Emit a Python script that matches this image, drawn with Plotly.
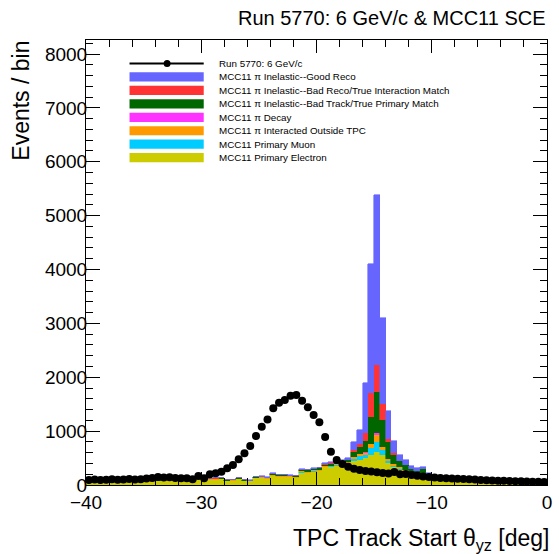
import numpy as np
import plotly.graph_objects as go

# ---------------- data ----------------
bin_edges_lo = -40.0
bin_width = 0.5
n_bins = 80
bin_centers = [bin_edges_lo + bin_width * (i + 0.5) for i in range(n_bins)]

data_counts = [
    95, 100, 92, 98, 105, 97, 100, 110, 102, 108,
    120, 130, 150, 140, 145, 128, 124, 124, 106, 167,
    124, 198, 217, 247, 310, 371, 476, 588, 724, 909,
    1082, 1218, 1423, 1527, 1577, 1657, 1670, 1565, 1441, 1299,
    1163, 890, 618, 464, 390, 340, 300, 280, 260, 250,
    235, 225, 215, 240, 200, 205, 185, 170, 160, 150,
    140, 130, 125, 120, 115, 110, 105, 100, 95, 90,
    85, 80, 78, 75, 70, 68, 65, 62, 60, 58,
]

mc_electron = [
    45, 48, 47, 50, 48, 52, 50, 54, 56, 57,
    60, 64, 76, 80, 78, 84, 76, 78, 80, 100,
    100, 96, 100, 104, 76, 80, 104, 72, 68, 124,
    128, 112, 172, 152, 148, 144, 136, 232, 228, 248,
    260, 330, 340, 360, 370, 380, 440, 470, 500, 550,
    620, 560, 400, 330, 280, 240, 200, 170, 160, 120,
    110, 115, 90, 82, 75, 72, 68, 64, 60, 60,
    56, 56, 52, 53, 51, 49, 49, 47, 45, 45,
]
mc_muon = [
    0, 0, 0, 0, 0, 0, 1, 0, 0, 1,
    1, 1, 1, 1, 1, 1, 1, 1, 1, 1,
    1, 1, 1, 2, 1, 1, 2, 1, 1, 2,
    2, 2, 3, 2, 2, 2, 2, 3, 3, 3,
    3, 5, 5, 10, 15, 20, 40, 60, 60, 140,
    180, 90, 40, 30, 20, 15, 10, 10, 10, 5,
    2, 2, 2, 1, 1, 1, 1, 1, 1, 1,
    1, 1, 1, 1, 1, 1, 1, 1, 1, 1,
]
mc_outside = [
    3, 4, 3, 4, 4, 4, 4, 5, 5, 5,
    5, 5, 6, 7, 6, 7, 6, 6, 7, 8,
    8, 8, 8, 9, 6, 7, 9, 6, 6, 10,
    10, 9, 14, 12, 12, 12, 11, 18, 18, 20,
    20, 10, 15, 15, 15, 20, 40, 40, 40, 70,
    130, 50, 40, 30, 30, 25, 20, 20, 15, 10,
    8, 8, 6, 6, 5, 5, 5, 4, 4, 4,
    4, 4, 4, 4, 4, 3, 3, 3, 3, 3,
]
mc_decay = [
    0, 0, 0, 0, 0, 0, 0, 0, 0, 0,
    0, 0, 0, 0, 0, 0, 0, 0, 0, 0,
    0, 0, 0, 0, 0, 0, 0, 0, 0, 0,
    0, 0, 0, 0, 0, 0, 0, 1, 1, 1,
    0, 0, 0, 0, 0, 0, 5, 5, 10, 10,
    30, 10, 10, 5, 5, 0, 0, 0, 0, 0,
    0, 0, 0, 0, 0, 0, 0, 0, 0, 0,
    0, 0, 0, 0, 0, 0, 0, 0, 0, 0,
]
mc_bad_track = [
    4, 5, 4, 5, 5, 5, 5, 6, 6, 6,
    6, 7, 8, 8, 8, 9, 8, 9, 8, 11,
    11, 10, 11, 11, 8, 8, 11, 8, 7, 13,
    13, 11, 18, 16, 15, 15, 14, 24, 23, 25,
    25, 35, 35, 35, 40, 40, 95, 125, 200, 500,
    770, 500, 300, 165, 105, 90, 60, 60, 115, 40,
    20, 35, 15, 14, 12, 11, 10, 10, 10, 10,
    9, 9, 9, 8, 8, 8, 8, 7, 7, 7,
]
mc_bad_reco = [
    1, 0, 1, 1, 0, 1, 1, 1, 1, 1,
    1, 1, 1, 1, 1, 1, 1, 1, 1, 2,
    2, 2, 2, 1, 1, 1, 1, 1, 1, 3,
    3, 2, 3, 3, 3, 3, 3, 4, 4, 4,
    4, 5, 5, 5, 5, 10, 30, 60, 150, 430,
    500, 290, 60, 30, 10, 10, 10, 5, 5, 3,
    2, 2, 1, 1, 1, 1, 1, 1, 1, 1,
    1, 1, 1, 1, 1, 1, 1, 1, 1, 1,
]
mc_good_reco = [
    2, 3, 3, 2, 3, 3, 2, 3, 2, 2,
    2, 2, 3, 3, 4, 3, 3, 3, 3, 3,
    3, 3, 3, 3, 3, 3, 3, 2, 2, 3,
    4, 4, 5, 5, 5, 4, 4, 8, 8, 9,
    8, 15, 20, 25, 25, 30, 155, 265, 940, 2400,
    3150, 1600, 520, 220, 110, 90, 55, 50, 35, 42,
    8, 8, 6, 6, 6, 5, 5, 5, 4, 4,
    4, 4, 3, 3, 3, 3, 3, 3, 3, 3,
]

# stack from bottom to top
stack_series = [mc_electron, mc_muon, mc_outside, mc_decay, mc_bad_track, mc_bad_reco, mc_good_reco]
stack_colors = ["#cccc00", "#00ccff", "#ff9900", "#ff33ff", "#006600", "#ff3333", "#6666ff"]

legend_labels = [
    "Run 5770: 6 GeV/c",
    "MCC11 \u03c0 Inelastic--Good Reco",
    "MCC11 \u03c0 Inelastic--Bad Reco/True Interaction Match",
    "MCC11 \u03c0 Inelastic--Bad Track/True Primary Match",
    "MCC11 \u03c0 Decay",
    "MCC11 \u03c0 Interacted Outside TPC",
    "MCC11 Primary Muon",
    "MCC11 Primary Electron",
]
legend_colors = ["#000000", "#6666ff", "#ff3333", "#006600", "#ff33ff", "#ff9900", "#00ccff", "#cccc00"]

x_ticks = [-40, -30, -20, -10, 0]
y_ticks = [0, 1000, 2000, 3000, 4000, 5000, 6000, 7000, 8000]

# ---------------- layout geometry ----------------
W, H = 559, 554
L, R, T, B = 86, 7, 40, 69
PX0, PX1 = L, W - R
PY1, PY0 = T, H - B


def xp(px):
    return (px - PX0) / (PX1 - PX0)


def yp(py):
    return (PY0 - py) / (PY0 - PY1)


FONT = "Liberation Sans, Arial, Helvetica, sans-serif"

fig = go.Figure()
for vals, col in zip(stack_series, stack_colors):
    fig.add_trace(go.Bar(
        x=bin_centers, y=vals, width=bin_width,
        marker=dict(color=col, line=dict(width=0.6, color=col)),
        showlegend=False, hoverinfo="skip",
    ))

fig.add_trace(go.Scatter(
    x=bin_centers, y=data_counts, mode="markers",
    marker=dict(color="black", size=8),
    error_y=dict(type="data", array=list(np.sqrt(data_counts)), color="black", thickness=1, width=0),
    showlegend=False, hoverinfo="skip",
))

# manual legend
shapes = []
annotations = []
row_y0 = 63.5
row_step = 13.45
for i, (lab, col) in enumerate(zip(legend_labels, legend_colors)):
    cy = row_y0 + i * row_step
    if i == 0:
        shapes.append(dict(type="line", xref="paper", yref="paper",
                           x0=xp(130), x1=xp(205), y0=yp(cy), y1=yp(cy),
                           line=dict(color="black", width=2)))
        shapes.append(dict(type="circle", xref="paper", yref="paper",
                           x0=xp(164.5), x1=xp(171.5), y0=yp(cy + 3.5), y1=yp(cy - 3.5),
                           fillcolor="black", line=dict(color="black", width=0)))
    else:
        shapes.append(dict(type="rect", xref="paper", yref="paper",
                           x0=xp(130), x1=xp(205), y0=yp(cy + 4.6), y1=yp(cy - 4.6),
                           fillcolor=col, line=dict(width=0)))
    annotations.append(dict(xref="paper", yref="paper", x=xp(218), y=yp(cy),
                            xanchor="left", yanchor="middle", text=lab, showarrow=False,
                            font=dict(family=FONT, size=9.8, color="black")))

annotations.append(dict(xref="paper", yref="paper", x=xp(553), y=yp(18), xanchor="right", yanchor="middle",
                        text="Run 5770: 6 GeV/c & MCC11 SCE", showarrow=False,
                        font=dict(family=FONT, size=20, color="black")))
annotations.append(dict(xref="paper", yref="paper", x=xp(556), y=yp(539), xanchor="right", yanchor="middle",
                        text="TPC Track Start \u03b8<sub>yz</sub> [deg]", showarrow=False,
                        font=dict(family=FONT, size=23, color="black")))
annotations.append(dict(xref="paper", yref="paper", x=xp(20), y=yp(39), xanchor="center", yanchor="top",
                        text="Events / bin", textangle=-90, showarrow=False,
                        font=dict(family=FONT, size=23, color="black")))

fig.update_layout(
    width=W, height=H,
    margin=dict(l=L, r=R, t=T, b=B, pad=0),
    paper_bgcolor="white", plot_bgcolor="white",
    barmode="stack", bargap=0,
    showlegend=False,
    shapes=shapes, annotations=annotations,
    font=dict(family=FONT, size=19, color="black"),
)
fig.update_xaxes(
    range=[-40, 0], tickvals=x_ticks, ticks="inside", ticklen=13, tickcolor="black",
    showline=True, linecolor="black", linewidth=1, mirror="ticks", showgrid=False, zeroline=False,
    minor=dict(dtick=2, tick0=0, ticks="inside", ticklen=7, tickcolor="black", showgrid=False),
    tickfont=dict(family=FONT, size=19),
)
fig.update_yaxes(
    range=[0, 8260], tickvals=y_ticks, ticks="inside", ticklen=14, tickcolor="black",
    showline=True, linecolor="black", linewidth=1, mirror="ticks", showgrid=False, zeroline=False,
    minor=dict(dtick=200, tick0=0, ticks="inside", ticklen=7, tickcolor="black", showgrid=False),
    tickfont=dict(family=FONT, size=19), ticklabelstandoff=-6,
)

fig.write_html("out.html")
